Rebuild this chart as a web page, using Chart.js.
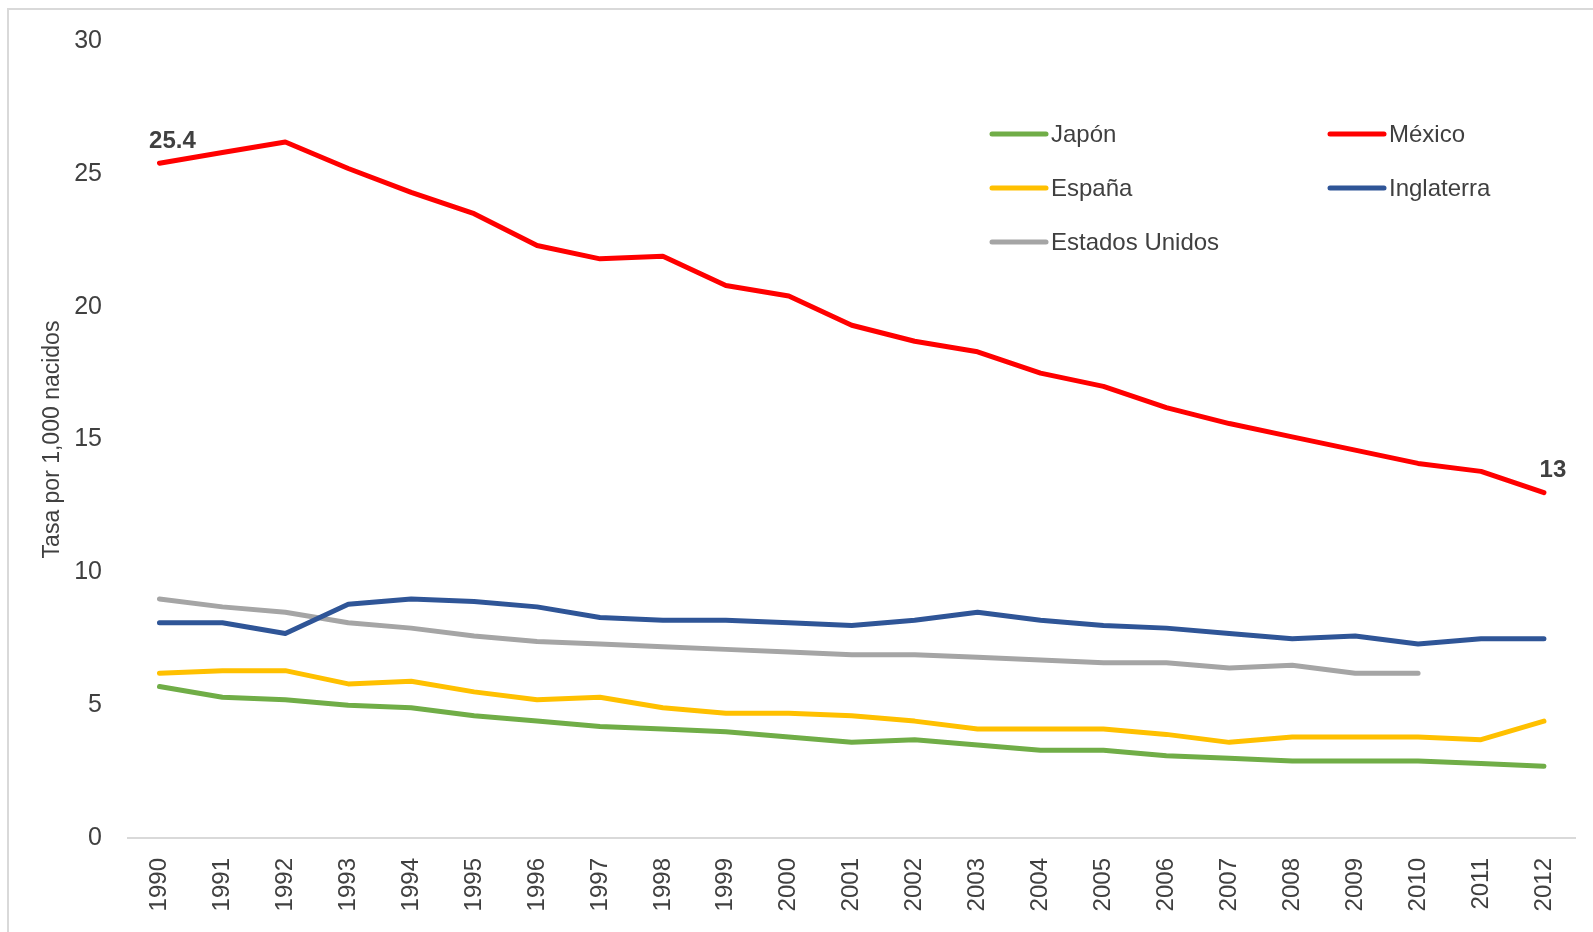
<!DOCTYPE html>
<html>
<head>
<meta charset="utf-8">
<script src="https://cdn.jsdelivr.net/npm/chart.js@4/dist/chart.umd.min.js"></script>
<style>
  html, body { margin: 0; padding: 0; background: #ffffff; }
  #wrap { width: 1593px; height: 932px; }
</style>
</head>
<body>
<div id="wrap"><canvas id="mortalityChart" width="1593" height="932"></canvas></div>
<script>
// Datos: tasa de mortalidad infantil por 1,000 nacidos
const years = ['1990', '1991', '1992', '1993', '1994', '1995', '1996', '1997', '1998', '1999', '2000',
    '2001', '2002', '2003', '2004', '2005', '2006', '2007', '2008', '2009', '2010', '2011', '2012'];
const japon = [5.7, 5.3, 5.2, 5.0, 4.9, 4.6, 4.4, 4.2, 4.1, 4.0, 3.8, 3.6, 3.7, 3.5, 3.3, 3.3, 3.1, 3.0, 2.9, 2.9, 2.9, 2.8, 2.7];
const mexico = [25.4, 25.8, 26.2, 25.2, 24.3, 23.5, 22.3, 21.8, 21.9, 20.8, 20.4, 19.3, 18.7, 18.3, 17.5, 17.0, 16.2, 15.6, 15.1, 14.6, 14.1, 13.8, 13.0];
const espana = [6.2, 6.3, 6.3, 5.8, 5.9, 5.5, 5.2, 5.3, 4.9, 4.7, 4.7, 4.6, 4.4, 4.1, 4.1, 4.1, 3.9, 3.6, 3.8, 3.8, 3.8, 3.7, 4.4];
const inglaterra = [8.1, 8.1, 7.7, 8.8, 9.0, 8.9, 8.7, 8.3, 8.2, 8.2, 8.1, 8.0, 8.2, 8.5, 8.2, 8.0, 7.9, 7.7, 7.5, 7.6, 7.3, 7.5, 7.5];
const estadosUnidos = [9.0, 8.7, 8.5, 8.1, 7.9, 7.6, 7.4, 7.3, 7.2, 7.1, 7.0, 6.9, 6.9, 6.8, 6.7, 6.6, 6.6, 6.4, 6.5, 6.2, 6.2, null, null];
const yTicks = [0, 5, 10, 15, 20, 25, 30];

const FONT = '"Liberation Sans", Arial, sans-serif';
const TEXT_COLOR = '#404040';

// Leyenda en dos columnas (como en Excel)
const legendGrid = {
    id: 'legendGrid',
    afterDraw(chart) {
        const ctx = chart.ctx;
        const cols = [992, 1330];
        const rows = [134, 188, 242];
        ctx.save();
        ctx.font = '24px ' + FONT;
        ctx.textBaseline = 'middle';
        ctx.textAlign = 'left';
        chart.data.datasets.forEach((ds, i) => {
            const x = cols[i % 2];
            const y = rows[Math.floor(i / 2)];
            ctx.strokeStyle = ds.borderColor;
            ctx.lineWidth = 5;
            ctx.lineCap = 'round';
            ctx.beginPath();
            ctx.moveTo(x, y);
            ctx.lineTo(x + 54, y);
            ctx.stroke();
            ctx.fillStyle = TEXT_COLOR;
            ctx.fillText(ds.label, x + 59, y + 1);
        });
        ctx.restore();
    }
};

// Etiquetas de primer y último valor de México
const endLabels = {
    id: 'endLabels',
    afterDatasetsDraw(chart) {
        const ctx = chart.ctx;
        const idx = chart.data.datasets.findIndex(d => d.label === 'México');
        const meta = chart.getDatasetMeta(idx);
        const data = chart.data.datasets[idx].data;
        const marks = [
            { i: 0, dx: 13, dy: -22 },
            { i: data.length - 1, dx: 9, dy: -22 }
        ];
        ctx.save();
        ctx.font = 'bold 24px ' + FONT;
        ctx.fillStyle = TEXT_COLOR;
        ctx.textAlign = 'center';
        ctx.textBaseline = 'middle';
        marks.forEach(m => {
            const pt = meta.data[m.i];
            ctx.fillText(String(data[m.i]), pt.x + m.dx, pt.y + m.dy);
        });
        ctx.restore();
    }
};

// Fondo blanco y borde del área del gráfico
const chartFrame = {
    id: 'chartFrame',
    beforeDraw(chart) {
        const ctx = chart.ctx;
        ctx.save();
        ctx.fillStyle = '#ffffff';
        ctx.fillRect(0, 0, chart.width, chart.height);
        ctx.strokeStyle = '#d9d9d9';
        ctx.lineWidth = 2;
        ctx.strokeRect(8, 9, chart.width + 20, chart.height + 20);
        ctx.restore();
    }
};

function series(label, data, color) {
    return {
        label: label,
        data: data,
        borderColor: color,
        backgroundColor: color,
        borderWidth: 5,
        borderCapStyle: 'round',
        borderJoinStyle: 'round',
        pointRadius: 0,
        tension: 0,
        spanGaps: false
    };
}

const ctx = document.getElementById('mortalityChart').getContext('2d');
new Chart(ctx, {
    type: 'line',
    data: {
        labels: years,
        datasets: [
            series('Japón', japon, '#70ad47'),
            series('México', mexico, '#ff0000'),
            series('España', espana, '#ffc000'),
            series('Inglaterra', inglaterra, '#2f5597'),
            series('Estados Unidos', estadosUnidos, '#a5a5a5')
        ]
    },
    options: {
        responsive: false,
        animation: false,
        layout: { padding: { top: 38, right: 12, bottom: 0, left: 0 } },
        plugins: {
            legend: { display: false },
            tooltip: { enabled: false }
        },
        scales: {
            x: {
                offset: true,
                grid: { display: false, drawTicks: false },
                border: { display: true, color: '#d9d9d9', width: 2 },
                ticks: {
                    color: TEXT_COLOR,
                    font: { family: FONT, size: 24 },
                    minRotation: 90,
                    maxRotation: 90,
                    padding: 20,
                    autoSkip: false
                },
                afterFit(scale) { scale.height = 94; }
            },
            y: {
                min: 0,
                max: 30,
                grid: { display: false, drawTicks: false },
                border: { display: false },
                afterBuildTicks(scale) { scale.ticks = yTicks.map(v => ({ value: v })); },
                ticks: {
                    color: TEXT_COLOR,
                    font: { family: FONT, size: 25 },
                    padding: 26
                },
                title: {
                    display: true,
                    text: 'Tasa por 1,000 nacidos',
                    color: TEXT_COLOR,
                    font: { family: FONT, size: 23 },
                    padding: { top: 39, bottom: 0 }
                },
                afterFit(scale) { scale.width = 128; }
            }
        }
    },
    plugins: [chartFrame, legendGrid, endLabels]
});
</script>
</body>
</html>
